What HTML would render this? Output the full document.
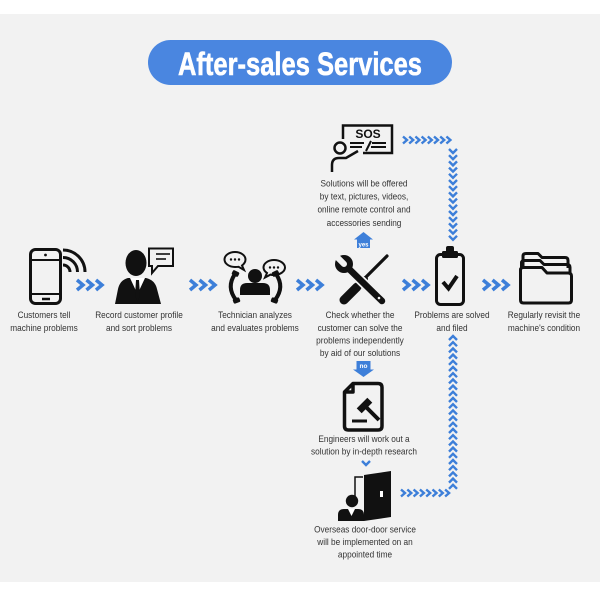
<!DOCTYPE html>
<html><head><meta charset="utf-8">
<style>
html,body{margin:0;padding:0;background:#fff;}
svg{display:block}
.t{font-family:"Liberation Sans",Arial,sans-serif;font-size:9.5px;fill:#333;text-anchor:middle}
</style></head>
<body>
<svg width="600" height="600" viewBox="0 0 600 600" xmlns="http://www.w3.org/2000/svg">
<rect x="0" y="0" width="600" height="600" fill="#ffffff"/>
<rect x="0" y="14" width="600" height="568" fill="#f2f2f2"/>

<!-- Title -->
<rect x="148" y="40" width="304" height="45" rx="22.5" fill="#4a86e0"/>
<text x="178" y="75" textLength="244" lengthAdjust="spacingAndGlyphs" font-family="Liberation Sans, Arial, sans-serif" font-weight="bold" font-size="32" fill="#fff" stroke="#fff" stroke-width="0.6">After-sales Services</text>

<!-- main chevrons -->
<g fill="none" stroke="#3d7fd9" stroke-width="3.5">
<path d="M77 280L83 285L77 290M86.5 280L92.5 285L86.5 290M96 280L102 285L96 290"/>
<path d="M190 280L196 285L190 290M199.5 280L205.5 285L199.5 290M209 280L215 285L209 290"/>
<path d="M297 280L303 285L297 290M306.5 280L312.5 285L306.5 290M316 280L322 285L316 290"/>
<path d="M403 280L409 285L403 290M412.5 280L418.5 285L412.5 290M422 280L428 285L422 290"/>
<path d="M483 280L489 285L483 290M492.5 280L498.5 285L492.5 290M502 280L508 285L502 290"/>
</g>

<!-- small chevron paths -->
<g fill="none" stroke="#3d7fd9" stroke-width="2.4">
<path d="M403 136.5L407 140L403 143.5M409.2 136.5L413.2 140L409.2 143.5M415.4 136.5L419.4 140L415.4 143.5M421.6 136.5L425.6 140L421.6 143.5M427.8 136.5L431.8 140L427.8 143.5M434 136.5L438 140L434 143.5M440.2 136.5L444.2 140L440.2 143.5M446.4 136.5L450.4 140L446.4 143.5"/>
<path d="M449 149L453 153L457 149M449 155.2L453 159.2L457 155.2M449 161.4L453 165.4L457 161.4M449 167.6L453 171.6L457 167.6M449 173.8L453 177.8L457 173.8M449 180L453 184L457 180M449 186.2L453 190.2L457 186.2M449 192.4L453 196.4L457 192.4M449 198.6L453 202.6L457 198.6M449 204.8L453 208.8L457 204.8M449 211L453 215L457 211M449 217.2L453 221.2L457 217.2M449 223.4L453 227.4L457 223.4M449 229.6L453 233.6L457 229.6M449 235.8L453 239.8L457 235.8"/>
<path d="M449 340L453 336L457 340M449 346.2L453 342.2L457 346.2M449 352.4L453 348.4L457 352.4M449 358.6L453 354.6L457 358.6M449 364.8L453 360.8L457 364.8M449 371L453 367L457 371M449 377.2L453 373.2L457 377.2M449 383.4L453 379.4L457 383.4M449 389.6L453 385.6L457 389.6M449 395.8L453 391.8L457 395.8M449 402L453 398L457 402M449 408.2L453 404.2L457 408.2M449 414.4L453 410.4L457 414.4M449 420.6L453 416.6L457 420.6M449 426.8L453 422.8L457 426.8M449 433L453 429L457 433M449 439.2L453 435.2L457 439.2M449 445.4L453 441.4L457 445.4M449 451.6L453 447.6L457 451.6M449 457.8L453 453.8L457 457.8M449 464L453 460L457 464M449 470.2L453 466.2L457 470.2M449 476.4L453 472.4L457 476.4M449 482.6L453 478.6L457 482.6M449 488.8L453 484.8L457 488.8"/>
<path d="M401 489.5L405 493L401 496.5M407.3 489.5L411.3 493L407.3 496.5M413.6 489.5L417.6 493L413.6 496.5M419.9 489.5L423.9 493L419.9 496.5M426.2 489.5L430.2 493L426.2 496.5M432.5 489.5L436.5 493L432.5 496.5M438.8 489.5L442.8 493L438.8 496.5M445.1 489.5L449.1 493L445.1 496.5"/>
<path d="M362 461L366 465L370 461"/>
</g>

<!-- yes arrow -->
<polygon points="354,239.5 373,239.5 363.5,232" fill="#3d7fd9"/>
<rect x="357" y="239" width="13" height="9" fill="#3d7fd9"/>
<text x="363.5" y="246.5" text-anchor="middle" font-family="Liberation Sans, Arial, sans-serif" font-weight="bold" font-size="6" fill="#fff">yes</text>
<!-- no arrow -->
<rect x="356.5" y="361" width="14" height="9" fill="#3d7fd9"/>
<polygon points="353,369.5 374,369.5 363.5,377" fill="#3d7fd9"/>
<text x="363.5" y="368" text-anchor="middle" font-family="Liberation Sans, Arial, sans-serif" font-weight="bold" font-size="6.5" fill="#fff">no</text>

<!-- Icon 1: phone -->
<g fill="none" stroke="#111" stroke-width="3">
<rect x="30.5" y="249.5" width="30" height="54" rx="5"/>
<line x1="31" y1="260" x2="60" y2="260" stroke-width="2"/>
<line x1="31" y1="294" x2="60" y2="294" stroke-width="2"/>
<line x1="42" y1="299" x2="50" y2="299" stroke-width="2.5"/>
<path d="M63 265A7 7 0 0 1 70 272"/>
<path d="M63 257.5A14.5 14.5 0 0 1 77.5 272"/>
<path d="M63 250A22 22 0 0 1 85 272"/>
</g>
<circle cx="45.5" cy="255" r="1.4" fill="#111"/>

<!-- Icon 2: person with bubble -->
<path d="M149 248.5H173V266H158L152 273V266H149Z" fill="#f2f2f2" stroke="#111" stroke-width="2"/>
<line x1="156" y1="254" x2="170" y2="254" stroke="#111" stroke-width="1.6"/>
<line x1="156" y1="259" x2="166" y2="259" stroke="#111" stroke-width="1.6"/>
<ellipse cx="136" cy="263" rx="10.5" ry="13" fill="#111"/>
<path d="M115 304L118 289Q120 280 128 278L146 278Q155 280 157 289L161 304Z" fill="#111"/>
<polygon points="130,278 137.5,294 145,278" fill="#fff"/>
<polygon points="136,280 139,280 140,296 137.5,301 135,296" fill="#111"/>

<!-- Icon 3: technician -->
<g fill="#f2f2f2" stroke="#111" stroke-width="2">
<path d="M235 252C241 252 245.5 255.5 245.5 259.5C245.5 262 244 264 242 265.5L244 270L238.5 266.8C237.4 267 236.2 267 235 267C229 267 224.5 263.5 224.5 259.5C224.5 255.5 229 252 235 252Z"/>
<path d="M274 260C280 260 285 263.5 285 267.5C285 271.5 280 275 274 275C272.8 275 271.6 274.9 270.5 274.6L265 277.5L267 273C265 271.6 263.5 269.7 263.5 267.5C263.5 263.5 268 260 274 260Z"/>
</g>
<g fill="#111">
<circle cx="231" cy="259.5" r="1.2"/><circle cx="235" cy="259.5" r="1.2"/><circle cx="239" cy="259.5" r="1.2"/>
<circle cx="270" cy="267.5" r="1.2"/><circle cx="274" cy="267.5" r="1.2"/><circle cx="278" cy="267.5" r="1.2"/>
<circle cx="255" cy="276" r="7"/>
<path d="M240 295V290Q240 283 247 283H263Q270 283 270 290V295Z"/>
</g>
<g fill="none" stroke="#111" stroke-linecap="round">
<path d="M235 274Q226 287 236 300" stroke-width="4"/>
<path d="M276 274Q285 287 275 300" stroke-width="4"/>
</g>
<g fill="#111">
<rect x="232" y="271" width="7" height="5" rx="1.5" transform="rotate(25 235.5 273.5)"/>
<rect x="233" y="298" width="7" height="5" rx="1.5" transform="rotate(-20 236.5 300.5)"/>
<rect x="272" y="271" width="7" height="5" rx="1.5" transform="rotate(-25 275.5 273.5)"/>
<rect x="271" y="298" width="7" height="5" rx="1.5" transform="rotate(20 274.5 300.5)"/>
</g>

<!-- Icon 4: tools -->
<g stroke-linecap="round">
<line x1="387" y1="256" x2="362" y2="281" stroke="#111" stroke-width="3.2"/>
<line x1="365" y1="279" x2="359" y2="285" stroke="#111" stroke-width="6"/>
<line x1="357" y1="287" x2="344" y2="300" stroke="#111" stroke-width="9"/>
<line x1="346" y1="266" x2="382" y2="301" stroke="#f2f2f2" stroke-width="10"/>
<line x1="346" y1="266" x2="382" y2="301" stroke="#111" stroke-width="6.5"/>
</g>
<circle cx="344" cy="264" r="9" fill="#111"/>
<line x1="344" y1="264" x2="333" y2="253" stroke="#f2f2f2" stroke-width="6" stroke-linecap="round"/>
<circle cx="379" cy="298" r="1.3" fill="#f2f2f2"/>

<!-- Icon 5: clipboard -->
<rect x="436.5" y="254.5" width="27" height="50" rx="4" fill="none" stroke="#111" stroke-width="3"/>
<rect x="442" y="251" width="16" height="7" rx="1.5" fill="#111"/>
<rect x="446" y="246" width="8" height="7" rx="2" fill="#111"/>
<polyline points="443,282 448.5,288.5 457,276" fill="none" stroke="#111" stroke-width="4"/>

<!-- Icon 6: folder -->
<g fill="none" stroke="#111" stroke-width="3" stroke-linejoin="round">
<path d="M523 268V256Q523 253.5 526 253.5H538L542 257.5H565Q568 257.5 568 260.5V268"/>
<path d="M521.5 275V263Q521.5 260.5 524.5 260.5H540L544 264.5H567Q570 264.5 570 267.5V275"/>
<path d="M520.5 300V270Q520.5 267.5 523.5 267.5H542L547 273H568Q571.5 273 571.5 276V300Q571.5 303 568.5 303H523.5Q520.5 303 520.5 300Z" fill="#f2f2f2"/>
</g>

<!-- SOS icon -->
<g fill="none" stroke="#111" stroke-width="2.5">
<path d="M343 139V125.5H392V153H363"/>
<circle cx="340" cy="148" r="5.5"/>
<path d="M332 172V165Q332 158 339 158H346L358 151"/>
<line x1="350" y1="143" x2="364" y2="143" stroke-width="2"/>
<line x1="350" y1="147" x2="362" y2="147" stroke-width="2"/>
<line x1="366" y1="151" x2="371" y2="141" stroke-width="2"/>
<line x1="372" y1="143" x2="386" y2="143" stroke-width="2"/>
<line x1="371" y1="147" x2="386" y2="147" stroke-width="2"/>
</g>
<text x="368" y="138" text-anchor="middle" font-family="Liberation Sans, Arial, sans-serif" font-weight="bold" font-size="12" fill="#111">SOS</text>

<!-- Document gavel icon -->
<g fill="none" stroke="#111" stroke-width="3.5" stroke-linejoin="round">
<path d="M353 383.5H378Q382 383.5 382 387.5V426Q382 430 378 430H348.5Q344.5 430 344.5 426V392Z"/>
<path d="M353 383.5V392H344.5"/>
</g>
<rect x="357" y="402" width="15" height="7" fill="#111" transform="rotate(-45 364.5 405.5)"/>
<line x1="366" y1="407" x2="379" y2="420" stroke="#111" stroke-width="4"/>
<line x1="352" y1="421" x2="367" y2="421" stroke="#111" stroke-width="3"/>

<!-- Door icon -->
<path d="M363 477H355V497" fill="none" stroke="#111" stroke-width="1.5"/>
<polygon points="364,475 391,471 391,517 364,521" fill="#111"/>
<rect x="380" y="491" width="3" height="6" fill="#fff"/>
<circle cx="352" cy="501" r="6.2" fill="#111"/>
<path d="M338 521V515Q338 509 344 509H358Q364 509 364 515V521Z" fill="#111"/>
<polygon points="348,509 351.5,516 355,509" fill="#fff"/>

<!-- Labels -->
<g transform="translate(44 0) scale(0.87 1)"><text class="t" x="0" y="318">Customers tell</text><text class="t" x="0" y="331">machine problems</text></g>
<g transform="translate(139 0) scale(0.87 1)"><text class="t" x="0" y="318">Record customer profile</text><text class="t" x="0" y="331">and sort problems</text></g>
<g transform="translate(255 0) scale(0.87 1)"><text class="t" x="0" y="318">Technician analyzes</text><text class="t" x="0" y="331">and evaluates problems</text></g>
<g transform="translate(360 0) scale(0.87 1)"><text class="t" x="0" y="318">Check whether the</text><text class="t" x="0" y="331">customer can solve the</text><text class="t" x="0" y="343.5">problems independently</text><text class="t" x="0" y="356">by aid of our solutions</text></g>
<g transform="translate(452 0) scale(0.87 1)"><text class="t" x="0" y="318">Problems are solved</text><text class="t" x="0" y="331">and filed</text></g>
<g transform="translate(544 0) scale(0.87 1)"><text class="t" x="0" y="318">Regularly revisit the</text><text class="t" x="0" y="331">machine's condition</text></g>
<g transform="translate(364 0) scale(0.87 1)"><text class="t" x="0" y="186.5">Solutions will be offered</text><text class="t" x="0" y="199.5">by text, pictures, videos,</text><text class="t" x="0" y="212.5">online remote control and</text><text class="t" x="0" y="226">accessories sending</text></g>
<g transform="translate(364 0) scale(0.87 1)"><text class="t" x="0" y="442">Engineers will work out a</text><text class="t" x="0" y="454.5">solution by in-depth research</text></g>
<g transform="translate(365 0) scale(0.87 1)"><text class="t" x="0" y="532.5">Overseas door-door service</text><text class="t" x="0" y="545">will be implemented on an</text><text class="t" x="0" y="557.5">appointed time</text></g>
</svg>
</body></html>
